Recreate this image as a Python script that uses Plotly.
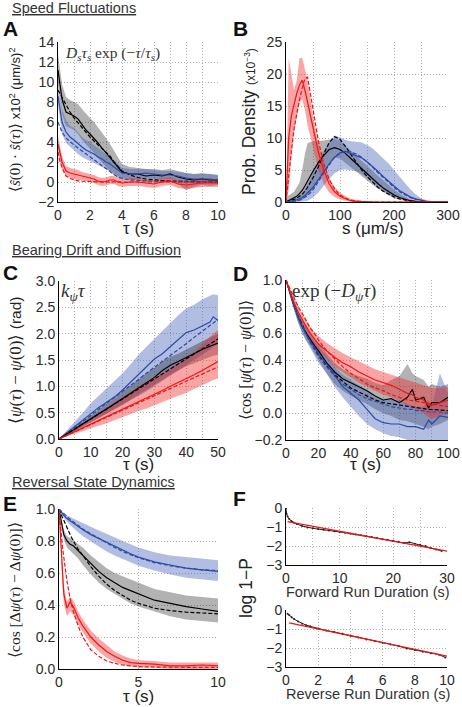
import plotly.graph_objects as go

W, H = 462, 707

# ---------------- Panel A: speed autocorrelation ----------------
A_tau = [0, 0.1, 0.25, 0.5, 0.75, 1, 1.25, 1.5, 1.75, 2, 2.25, 2.5, 2.75, 3, 3.25, 3.5, 3.75, 4,
         4.5, 5, 5.5, 6, 6.5, 7, 7.5, 8, 8.5, 9, 9.5, 10]
A_black = [11.2, 10.0, 8.3, 7.0, 6.8, 6.6, 6.3, 5.7, 5.2, 4.8, 4.4, 3.9, 3.4, 2.9, 2.4, 1.9, 1.4, 1.0,
           0.8, 0.8, 0.6, 0.7, 0.6, 0.8, 0.5, 0.3, 0.2, 0.3, 0.2, 0.2]
A_black_hi = [12.8, 11.5, 9.8, 8.5, 8.2, 8.0, 7.8, 7.3, 6.8, 6.4, 6.0, 5.5, 5.0, 4.4, 3.8, 3.1, 2.4, 1.8,
              1.5, 1.4, 1.3, 1.3, 1.2, 1.3, 1.1, 0.9, 0.8, 0.9, 0.8, 0.7]
A_black_lo = [9.6, 8.5, 6.8, 5.6, 5.4, 5.2, 4.8, 4.2, 3.7, 3.3, 2.9, 2.4, 1.9, 1.5, 1.0, 0.7, 0.4, 0.3,
              0.2, 0.2, 0.0, 0.1, 0.0, 0.2, -0.2, -0.8, -0.5, -0.3, -0.4, -0.3]
A_black_fit = [9.2, 8.9, 8.4, 7.6, 7.0, 6.4, 5.9, 5.4, 4.9, 4.5, 4.1, 3.7, 3.3, 3.0, 2.6, 2.0, 1.5, 1.1,
               0.7, 0.45, 0.3, 0.2, 0.15, 0.1, 0.07, 0.05, 0.03, 0.02, 0.01, 0.01]
A_blue = [8.6, 7.6, 6.0, 5.0, 4.5, 4.2, 3.8, 3.5, 3.2, 3.0, 2.8, 2.5, 2.3, 2.0, 1.8, 1.5, 1.2, 0.9,
          0.8, 0.8, 0.9, 0.8, 0.7, 0.7, 0.6, 0.4, 0.3, 0.3, 0.3, 0.2]
A_blue_hi = [9.4, 8.5, 7.2, 6.2, 5.6, 5.4, 4.9, 4.5, 4.2, 4.0, 3.7, 3.4, 3.1, 2.8, 2.5, 2.2, 1.8, 1.4,
             1.3, 1.3, 1.3, 1.2, 1.1, 1.1, 1.0, 0.9, 0.8, 0.8, 0.8, 0.7]
A_blue_lo = [7.8, 6.7, 4.8, 3.9, 3.5, 3.2, 2.8, 2.5, 2.3, 2.1, 1.9, 1.7, 1.5, 1.3, 1.1, 0.9, 0.6, 0.4,
             0.3, 0.3, 0.4, 0.3, 0.3, 0.3, 0.2, 0.0, -0.1, -0.1, -0.1, -0.2]
A_blue_fit = [6.0, 5.6, 5.0, 4.4, 4.0, 3.7, 3.4, 3.1, 2.8, 2.5, 2.2, 1.9, 1.6, 1.3, 1.0, 0.75, 0.5, 0.35,
              0.2, 0.15, 0.1, 0.07, 0.05, 0.03, 0.02, 0.01, 0.01, 0.0, 0.0, 0.0]
A_red = [3.8, 3.0, 2.0, 1.1, 0.9, 0.8, 0.7, 0.6, 0.5, 0.4, 0.3, 0.1, 0.0, 0.05, 0.2, 0.2, 0.0, -0.1,
         0.0, 0.0, -0.1, -0.2, 0.0, 0.1, -0.2, -0.3, -0.2, -0.1, -0.1, -0.1]
A_red_hi = [4.6, 3.7, 2.6, 1.6, 1.4, 1.3, 1.2, 1.0, 0.9, 0.8, 0.7, 0.5, 0.4, 0.45, 0.6, 0.6, 0.4, 0.3,
            0.4, 0.4, 0.3, 0.2, 0.4, 0.5, 0.2, 0.1, 0.2, 0.3, 0.3, 0.3]
A_red_lo = [3.0, 2.3, 1.4, 0.6, 0.4, 0.3, 0.2, 0.2, 0.1, 0.0, -0.1, -0.3, -0.4, -0.35, -0.2, -0.2, -0.4, -0.5,
            -0.4, -0.4, -0.5, -0.6, -0.4, -0.3, -0.6, -0.7, -0.6, -0.5, -0.5, -0.5]
A_red_fit = [3.0, 2.2, 1.4, 0.6, 0.35, 0.2, 0.12, 0.08, 0.05, 0.03, 0.02, 0.01, 0.01, 0, 0, 0, 0, 0,
             0, 0, 0, 0, 0, 0, 0, 0, 0, 0, 0, 0]

# ---------------- Panel B: speed distributions ----------------
B_s = [0, 5, 10, 15, 20, 25, 30, 35, 40, 50, 60, 70, 80, 90, 100, 110, 120, 130, 140, 150, 160, 170,
       180, 190, 200, 210, 220, 230, 240, 250, 260, 270, 280, 290, 300]
B_red = [0, 10, 13.5, 15.5, 17, 18.3, 19, 17.5, 15.5, 11.5, 7.8, 5, 2.8, 1.6, 0.9, 0.5, 0.2, 0.1, 0.05,
         0, 0, 0, 0, 0, 0, 0, 0, 0, 0, 0, 0, 0, 0, 0, 0]
B_red_fit = [0, 4.5, 8, 11.5, 14, 16, 17.8, 19.3, 19.5, 14.5, 9.5, 6, 3.5, 2, 1.1, 0.6, 0.3, 0.15, 0.05,
             0, 0, 0, 0, 0, 0, 0, 0, 0, 0, 0, 0, 0, 0, 0, 0]
B_red_hi = [0, 22.5, 20, 17.5, 19, 22.5, 22.5, 20.5, 19, 13.5, 9, 6, 3.8, 2.4, 1.5, 0.9, 0.5, 0.3, 0.15,
            0.05, 0, 0, 0, 0, 0, 0, 0, 0, 0, 0, 0, 0, 0, 0, 0]
B_red_lo = [0, 2, 7, 11, 13, 15.5, 16, 14.5, 12, 8.5, 5, 2.8, 1.5, 0.8, 0.4, 0.2, 0.05,
            0, 0, 0, 0, 0, 0, 0, 0, 0, 0, 0, 0, 0, 0, 0, 0, 0, 0]
B_black = [0, 0.2, 0.4, 0.6, 0.9, 1.3, 1.8, 2.5, 3.3, 4.8, 6.2, 7.3, 8.2, 8.5, 8.2, 7.6, 6.8, 6.0, 5.2,
           4.4, 3.6, 2.9, 2.2, 1.6, 1.1, 0.7, 0.4, 0.2, 0.1, 0.05, 0, 0, 0, 0, 0]
B_black_fit = [0, 0.1, 0.2, 0.4, 0.6, 0.9, 1.2, 1.7, 2.3, 3.8, 5.5, 7.5, 9.3, 10.2, 9.8, 8.7, 7.4, 6.2,
               5.0, 4.0, 3.1, 2.3, 1.7, 1.2, 0.8, 0.5, 0.3, 0.15, 0.05, 0, 0, 0, 0, 0, 0]
B_black_hi = [0.8, 1.0, 1.3, 1.6, 2.2, 3.0, 5.0, 7.5, 9.2, 9.5, 9.5, 9.6, 9.8, 9.9, 9.6, 8.8, 8.0, 7.2,
              6.5, 5.7, 4.9, 4.1, 3.4, 2.6, 1.9, 1.3, 0.8, 0.4, 0.2, 0.1, 0, 0, 0, 0, 0]
B_black_lo = [0, 0, 0, 0, 0.05, 0.15, 0.3, 0.6, 1.0, 2.0, 3.5, 5.0, 6.2, 6.9, 6.8, 6.2, 5.5, 4.8, 4.1,
              3.4, 2.7, 2.1, 1.5, 1.0, 0.6, 0.35, 0.2, 0.1, 0, 0, 0, 0, 0, 0, 0]
B_blue = [0, 0.05, 0.1, 0.2, 0.35, 0.5, 0.7, 1.0, 1.4, 2.3, 3.5, 4.8, 6.0, 7.0, 7.7, 7.9, 7.6, 7.2, 6.9,
          6.3, 5.6, 4.8, 4.0, 3.2, 2.5, 1.8, 1.3, 0.8, 0.5, 0.25, 0.1, 0.05, 0, 0, 0]
B_blue_fit = [0, 0.03, 0.07, 0.12, 0.2, 0.3, 0.5, 0.7, 1.0, 1.9, 3.1, 4.5, 5.8, 7.0, 7.6, 7.9, 7.8, 7.5,
              7.0, 6.3, 5.5, 4.6, 3.8, 3.0, 2.3, 1.6, 1.1, 0.7, 0.4, 0.2, 0.1, 0, 0, 0, 0]
B_blue_hi = [0.2, 0.3, 0.4, 0.5, 0.7, 1.0, 1.4, 2.0, 2.8, 4.5, 6.3, 8.0, 9.3, 10.4, 10.1, 9.7, 9.5, 9.4,
             9.3, 8.9, 8.4, 7.6, 6.8, 6.0, 5.0, 4.0, 3.0, 2.0, 1.2, 0.6, 0.3, 0.1, 0, 0, 0]
B_blue_lo = [0, 0, 0, 0, 0, 0, 0.05, 0.1, 0.2, 0.7, 1.5, 2.5, 3.6, 4.5, 5.0, 5.1, 5.0, 4.8, 4.4, 3.8,
             3.1, 2.4, 1.8, 1.3, 0.9, 0.6, 0.4, 0.2, 0.1, 0, 0, 0, 0, 0, 0]

# ---------------- Panel C: bearing drift ----------------
C_tau = [0, 2.5, 5, 7.5, 10, 12.5, 15, 17.5, 20, 22.5, 25, 27.5, 30, 32.5, 35, 37.5, 40, 42.5, 45,
         47.5, 48.5, 50]
C_blue = [0, 0.12, 0.24, 0.37, 0.49, 0.6, 0.7, 0.8, 0.93, 1.08, 1.22, 1.38, 1.52, 1.62, 1.75, 1.88,
          2.02, 2.07, 2.15, 2.22, 2.32, 2.25]
C_blue_fit = [0, 0.11, 0.23, 0.34, 0.45, 0.57, 0.68, 0.79, 0.91, 1.02, 1.13, 1.25, 1.36, 1.47, 1.59,
              1.7, 1.81, 1.93, 2.04, 2.15, 2.2, 2.27]
C_blue_hi = [0, 0.16, 0.33, 0.5, 0.68, 0.82, 0.96, 1.1, 1.25, 1.42, 1.6, 1.75, 1.9, 2.05, 2.2, 2.35,
             2.48, 2.55, 2.65, 2.72, 2.75, 2.73]
C_blue_lo = [0, 0.08, 0.16, 0.24, 0.32, 0.4, 0.48, 0.56, 0.64, 0.73, 0.82, 0.9, 1.0, 1.1, 1.2, 1.3,
             1.4, 1.5, 1.6, 1.7, 1.75, 1.8]
C_black = [0, 0.09, 0.19, 0.29, 0.39, 0.48, 0.57, 0.67, 0.77, 0.88, 0.98, 1.08, 1.17, 1.3, 1.4, 1.47,
           1.55, 1.62, 1.7, 1.76, 1.79, 1.82]
C_black_fit = [0, 0.095, 0.19, 0.285, 0.38, 0.475, 0.57, 0.665, 0.76, 0.855, 0.95, 1.045, 1.14, 1.235,
               1.33, 1.425, 1.52, 1.615, 1.71, 1.805, 1.84, 1.9]
C_black_hi = [0, 0.11, 0.23, 0.34, 0.45, 0.56, 0.67, 0.78, 0.9, 1.02, 1.13, 1.25, 1.35, 1.47, 1.56,
              1.62, 1.7, 1.78, 1.86, 1.93, 1.96, 2.0]
C_black_lo = [0, 0.07, 0.15, 0.23, 0.32, 0.4, 0.48, 0.57, 0.65, 0.74, 0.84, 0.93, 1.02, 1.12, 1.22,
              1.3, 1.38, 1.44, 1.5, 1.56, 1.58, 1.6]
C_red = [0, 0.07, 0.14, 0.21, 0.28, 0.35, 0.42, 0.49, 0.57, 0.64, 0.71, 0.78, 0.85, 0.92, 1.0, 1.07,
         1.15, 1.22, 1.3, 1.39, 1.43, 1.47]
C_red_fit = [0, 0.069, 0.137, 0.206, 0.274, 0.343, 0.411, 0.48, 0.548, 0.617, 0.685, 0.754, 0.822,
             0.891, 0.959, 1.028, 1.096, 1.165, 1.233, 1.302, 1.33, 1.37]
C_red_hi = [0, 0.1, 0.2, 0.3, 0.4, 0.5, 0.6, 0.7, 0.8, 0.9, 1.0, 1.08, 1.16, 1.25, 1.35, 1.45, 1.55,
            1.65, 1.8, 1.95, 2.0, 2.07]
C_red_lo = [0, 0.05, 0.1, 0.15, 0.2, 0.25, 0.3, 0.35, 0.41, 0.47, 0.53, 0.58, 0.63, 0.7, 0.76, 0.82,
            0.88, 0.95, 1.02, 1.09, 1.12, 1.15]

# ---------------- Panel D: bearing diffusion ----------------
D_tau = [0, 2.5, 5, 7.5, 10, 12.5, 15, 17.5, 20, 25, 30, 35, 40, 45, 50, 55, 60, 65, 70, 75, 78, 80,
         85, 88, 90, 95, 100]
D_red = [1.0, 0.91, 0.83, 0.76, 0.7, 0.65, 0.6, 0.56, 0.52, 0.47, 0.42, 0.38, 0.35, 0.31, 0.28, 0.25,
         0.23, 0.21, 0.18, 0.15, 0.14, 0.12, 0.1, 0.06, 0.06, 0.08, 0.1]
D_red_fit = [1.0, 0.93, 0.86, 0.8, 0.75, 0.69, 0.64, 0.6, 0.55, 0.47, 0.41, 0.35, 0.3, 0.26, 0.22,
             0.19, 0.17, 0.14, 0.12, 0.1, 0.095, 0.09, 0.08, 0.07, 0.07, 0.06, 0.05]
D_red_hi = [1.0, 0.93, 0.86, 0.8, 0.74, 0.69, 0.65, 0.61, 0.58, 0.53, 0.49, 0.45, 0.42, 0.39, 0.36,
            0.33, 0.31, 0.29, 0.27, 0.25, 0.24, 0.23, 0.21, 0.2, 0.19, 0.19, 0.2]
D_red_lo = [1.0, 0.89, 0.8, 0.72, 0.66, 0.61, 0.56, 0.51, 0.47, 0.41, 0.35, 0.31, 0.27, 0.23, 0.2,
            0.17, 0.14, 0.12, 0.09, 0.06, 0.04, 0.03, 0.0, -0.03, -0.04, -0.02, 0.0]
D_black = [1.0, 0.9, 0.81, 0.72, 0.65, 0.6, 0.55, 0.51, 0.47, 0.38, 0.31, 0.26, 0.23, 0.2, 0.17, 0.13,
           0.1, 0.11, 0.08, 0.12, 0.18, 0.1, 0.12, 0.04, 0.08, 0.08, 0.12]
D_black_fit = [1.0, 0.9, 0.81, 0.73, 0.66, 0.6, 0.54, 0.49, 0.44, 0.36, 0.29, 0.24, 0.19, 0.16, 0.13,
               0.1, 0.08, 0.07, 0.06, 0.05, 0.045, 0.04, 0.035, 0.03, 0.03, 0.025, 0.02]
D_black_hi = [1.0, 0.92, 0.84, 0.76, 0.7, 0.65, 0.6, 0.56, 0.53, 0.45, 0.38, 0.33, 0.3, 0.28, 0.26,
              0.23, 0.21, 0.25, 0.28, 0.37, 0.3, 0.28, 0.25, 0.2, 0.22, 0.2, 0.22]
D_black_lo = [1.0, 0.88, 0.78, 0.68, 0.6, 0.54, 0.49, 0.45, 0.4, 0.3, 0.22, 0.17, 0.13, 0.1, 0.07,
              0.03, 0.0, -0.02, -0.05, -0.06, -0.07, -0.08, -0.1, -0.12, -0.1, -0.08, -0.05]
D_blue = [1.0, 0.89, 0.8, 0.72, 0.65, 0.59, 0.54, 0.49, 0.45, 0.37, 0.28, 0.2, 0.15, 0.1, 0.03, -0.04,
          -0.07, -0.08, -0.08, -0.1, -0.1, -0.1, -0.12, -0.05, -0.08, -0.02, -0.03]
D_blue_fit = [1.0, 0.9, 0.81, 0.72, 0.65, 0.59, 0.53, 0.48, 0.43, 0.35, 0.28, 0.22, 0.18, 0.14, 0.11,
              0.09, 0.07, 0.05, 0.04, 0.03, 0.03, 0.02, 0.02, 0.01, 0.01, 0.01, 0.0]
D_blue_hi = [1.0, 0.91, 0.83, 0.75, 0.69, 0.63, 0.58, 0.54, 0.5, 0.43, 0.35, 0.29, 0.25, 0.21, 0.17,
             0.12, 0.1, 0.1, 0.1, 0.07, 0.06, 0.05, 0.05, 0.1, 0.05, 0.3, 0.15]
D_blue_lo = [1.0, 0.87, 0.77, 0.68, 0.6, 0.54, 0.49, 0.44, 0.38, 0.3, 0.2, 0.12, 0.05, -0.02, -0.08,
             -0.12, -0.15, -0.17, -0.18, -0.2, -0.2, -0.2, -0.2, -0.2, -0.2, -0.2, -0.2]

# ---------------- Panel E: reversal state ----------------
E_tau = [0, 0.1, 0.2, 0.3, 0.5, 0.7, 0.9, 1.2, 1.5, 2, 2.5, 3, 3.5, 4, 4.5, 5, 6, 7, 8, 9, 10]
E_blue = [1.0, 0.985, 0.97, 0.96, 0.94, 0.925, 0.91, 0.89, 0.87, 0.84, 0.815, 0.79, 0.765, 0.74, 0.72,
          0.7, 0.67, 0.65, 0.63, 0.62, 0.61]
E_blue_fit = [1.0, 0.99, 0.98, 0.97, 0.95, 0.935, 0.92, 0.895, 0.875, 0.845, 0.815, 0.785, 0.76, 0.735,
              0.715, 0.695, 0.665, 0.645, 0.63, 0.62, 0.615]
E_blue_hi = [1.0, 0.99, 0.98, 0.975, 0.96, 0.95, 0.94, 0.925, 0.91, 0.885, 0.865, 0.845, 0.82, 0.8,
             0.78, 0.76, 0.73, 0.71, 0.7, 0.69, 0.68]
E_blue_lo = [1.0, 0.98, 0.96, 0.945, 0.92, 0.9, 0.88, 0.855, 0.83, 0.795, 0.765, 0.735, 0.71, 0.685,
             0.665, 0.645, 0.615, 0.59, 0.57, 0.56, 0.55]
E_black = [1.0, 0.94, 0.88, 0.84, 0.8, 0.78, 0.77, 0.74, 0.71, 0.66, 0.61, 0.57, 0.54, 0.51, 0.49,
           0.47, 0.43, 0.41, 0.39, 0.375, 0.36]
E_black_fit = [1.0, 0.97, 0.95, 0.93, 0.88, 0.84, 0.8, 0.75, 0.71, 0.64, 0.58, 0.53, 0.49, 0.46, 0.43,
               0.41, 0.38, 0.365, 0.355, 0.35, 0.345]
E_black_hi = [1.0, 0.95, 0.9, 0.87, 0.83, 0.82, 0.81, 0.78, 0.76, 0.71, 0.67, 0.63, 0.6, 0.58, 0.56,
              0.54, 0.5, 0.48, 0.46, 0.45, 0.44]
E_black_lo = [1.0, 0.93, 0.86, 0.81, 0.76, 0.74, 0.72, 0.69, 0.65, 0.59, 0.54, 0.5, 0.47, 0.44, 0.41,
              0.39, 0.36, 0.33, 0.31, 0.3, 0.29]
E_red = [1.0, 0.8, 0.62, 0.47, 0.38, 0.42, 0.39, 0.32, 0.27, 0.2, 0.15, 0.11, 0.08, 0.055, 0.04,
         0.035, 0.03, 0.02, 0.02, 0.025, 0.02]
E_red_fit = [1.0, 0.88, 0.78, 0.7, 0.55, 0.44, 0.36, 0.27, 0.2, 0.12, 0.08, 0.05, 0.035, 0.025, 0.02,
             0.015, 0.012, 0.01, 0.01, 0.01, 0.01]
E_red_hi = [1.0, 0.83, 0.66, 0.52, 0.42, 0.45, 0.43, 0.36, 0.31, 0.24, 0.19, 0.15, 0.11, 0.085, 0.065,
            0.055, 0.05, 0.04, 0.04, 0.04, 0.04]
E_red_lo = [1.0, 0.77, 0.56, 0.41, 0.33, 0.36, 0.34, 0.28, 0.23, 0.16, 0.11, 0.07, 0.045, 0.025,
            0.015, 0.01, 0.01, 0.0, 0.0, 0.0, 0.0]

# ---------------- Panel F: run durations ----------------
F_fwd_t = [0, 0.1, 0.3, 0.6, 1, 1.5, 2, 3, 4, 5, 6, 7, 8, 9, 10, 11, 12, 13, 14, 15, 16, 17, 18, 19,
           20, 21, 22, 23, 24, 25, 26, 27, 28, 29]
F_fwd = [0, -0.3, -0.45, -0.58, -0.68, -0.77, -0.84, -0.95, -1.02, -1.07, -1.11, -1.14, -1.18, -1.22,
         -1.26, -1.3, -1.35, -1.4, -1.44, -1.49, -1.53, -1.58, -1.64, -1.68, -1.73, -1.78, -1.84, -1.8,
         -1.88, -1.93, -2.0, -2.1, -2.18, -2.26]
F_fwd_fit_t = [0.3, 30]
F_fwd_fit = [-0.72, -2.27]
F_rev_t = [0.1, 0.2, 0.35, 0.5, 0.75, 1, 1.25, 1.5, 2, 2.5, 3, 3.5, 4, 4.5, 5, 5.5, 6, 6.5, 7, 7.5, 8,
           8.5, 9, 9.5, 9.9]
F_rev = [-0.2, -0.27, -0.38, -0.48, -0.6, -0.72, -0.8, -0.86, -0.98, -1.08, -1.16, -1.25, -1.35, -1.45,
         -1.55, -1.63, -1.72, -1.82, -1.9, -2.02, -2.1, -2.2, -2.28, -2.35, -2.5]
F_rev_fit_t = [0.2, 10]
F_rev_fit = [-0.68, -2.43]

# ---------------- styling ----------------
BLACK, BLUE, RED = "#000000", "#2b4aa6", "#f01414"
BAND = {"k": "rgba(0,0,0,0.30)", "b": "rgba(60,90,180,0.40)", "r": "rgba(240,40,40,0.42)"}
LINE = {"k": BLACK, "b": BLUE, "r": RED}
SANS = "Liberation Sans, Arial, sans-serif"
SERIF = "Liberation Serif, Times New Roman, serif"
TICKFONT = dict(family=SANS, size=14, color="#2a2a2a")
GRID = "#b4b4b4"
GRIDDASH = "1px,2px"

fig = go.Figure()


def px_x(p):
    return p / W


def px_y(p):
    return 1 - p / H


def add_series(ax, x, mid, lo, hi, fit, c):
    assert len(x) == len(mid) == len(lo) == len(hi) == len(fit), (ax, c)
    xa, ya = ("x" + ax, "y" + ax) if ax else ("x", "y")
    fig.add_trace(go.Scatter(x=list(x) + list(x)[::-1], y=list(hi) + list(lo)[::-1], fill="toself",
                             fillcolor=BAND[c], line=dict(width=0), mode="lines", hoverinfo="skip",
                             showlegend=False, xaxis=xa, yaxis=ya))
    return (xa, ya, x, mid, fit, c)


def add_lines(spec):
    xa, ya, x, mid, fit, c = spec
    fig.add_trace(go.Scatter(x=x, y=fit, mode="lines", line=dict(color=LINE[c], width=1.2, dash="4px,2px"),
                             showlegend=False, xaxis=xa, yaxis=ya))
    fig.add_trace(go.Scatter(x=x, y=mid, mode="lines", line=dict(color=LINE[c], width=1.2),
                             showlegend=False, xaxis=xa, yaxis=ya))


panels = {
    "": [(A_tau, A_black, A_black_lo, A_black_hi, A_black_fit, "k"),
         (A_tau, A_blue, A_blue_lo, A_blue_hi, A_blue_fit, "b"),
         (A_tau, A_red, A_red_lo, A_red_hi, A_red_fit, "r")],
    "2": [(B_s, B_black, B_black_lo, B_black_hi, B_black_fit, "k"),
          (B_s, B_blue, B_blue_lo, B_blue_hi, B_blue_fit, "b"),
          (B_s, B_red, B_red_lo, B_red_hi, B_red_fit, "r")],
    "3": [(C_tau, C_blue, C_blue_lo, C_blue_hi, C_blue_fit, "b"),
          (C_tau, C_black, C_black_lo, C_black_hi, C_black_fit, "k"),
          (C_tau, C_red, C_red_lo, C_red_hi, C_red_fit, "r")],
    "4": [(D_tau, D_black, D_black_lo, D_black_hi, D_black_fit, "k"),
          (D_tau, D_blue, D_blue_lo, D_blue_hi, D_blue_fit, "b"),
          (D_tau, D_red, D_red_lo, D_red_hi, D_red_fit, "r")],
    "5": [(E_tau, E_black, E_black_lo, E_black_hi, E_black_fit, "k"),
          (E_tau, E_blue, E_blue_lo, E_blue_hi, E_blue_fit, "b"),
          (E_tau, E_red, E_red_lo, E_red_hi, E_red_fit, "r")],
}
for ax, series in panels.items():
    specs = [add_series(ax, *s) for s in series]
    for sp in specs:
        add_lines(sp)

# Panel F
assert len(F_fwd_t) == len(F_fwd) and len(F_rev_t) == len(F_rev)
fig.add_trace(go.Scatter(x=F_fwd_t, y=F_fwd, mode="lines+markers", line=dict(color="#222", width=1),
                         marker=dict(size=2, color="#222"), showlegend=False, xaxis="x6", yaxis="y6"))
fig.add_trace(go.Scatter(x=F_fwd_fit_t, y=F_fwd_fit, mode="lines", line=dict(color=RED, width=1.3),
                         showlegend=False, xaxis="x6", yaxis="y6"))
fig.add_trace(go.Scatter(x=F_rev_t, y=F_rev, mode="lines+markers", line=dict(color="#222", width=1),
                         marker=dict(size=2, color="#222"), showlegend=False, xaxis="x7", yaxis="y7"))
fig.add_trace(go.Scatter(x=F_rev_fit_t, y=F_rev_fit, mode="lines", line=dict(color=RED, width=1.3),
                         showlegend=False, xaxis="x7", yaxis="y7"))


def axis(dom, rng, dtick, minor=None, anchor="y", fmt=None):
    d = dict(domain=dom, range=rng, dtick=dtick, tick0=0, anchor=anchor, showline=True, linecolor="black",
             linewidth=1, mirror=False, showgrid=True, gridcolor=GRID, griddash=GRIDDASH, gridwidth=1,
             zeroline=False, ticks="", tickfont=TICKFONT, fixedrange=True, automargin=False)
    if minor:
        d["minor"] = dict(dtick=minor, tick0=0, showgrid=True, gridcolor=GRID, griddash=GRIDDASH, gridwidth=1)
    if fmt:
        d["tickformat"] = fmt
    return d


def xd(l, r):
    return [px_x(l), px_x(r)]


def yd(t, b):
    return [px_y(b), px_y(t)]


fig.update_layout(
    width=W, height=H, margin=dict(l=0, r=0, t=0, b=0), autosize=False,
    paper_bgcolor="white", plot_bgcolor="white", showlegend=False, hovermode=False,
    xaxis=axis(xd(58, 218), [0, 10], 2, 1, "y"),
    yaxis=axis(yd(42, 202), [-2, 14], 2, None, "x"),
    xaxis2=axis(xd(286, 448), [0, 300], 100, 50, "y2"),
    yaxis2=axis(yd(42, 202), [0, 25], 5, None, "x2"),
    xaxis3=axis(xd(59, 218), [0, 50], 10, 5, "y3"),
    yaxis3=axis(yd(281, 439), [0, 3], 0.5, None, "x3", ".1f"),
    xaxis4=axis(xd(286, 448), [0, 100], 20, 10, "y4"),
    yaxis4=axis(yd(280, 440), [-0.2, 1.0], 0.2, None, "x4", ".1f"),
    xaxis5=axis(xd(59, 218), [0, 10], 5, None, "y5"),
    yaxis5=axis(yd(509, 669), [0, 1.0], 0.2, None, "x5", ".1f"),
    xaxis6=axis(xd(286, 447), [0, 30], 10, 5, "y6"),
    yaxis6=axis(yd(508, 565), [-3, 0], 1, None, "x6"),
    xaxis7=axis(xd(286, 447), [0, 10], 2, None, "y7"),
    yaxis7=axis(yd(610, 667), [-3, 0], 1, None, "x7"),
)

ann = []


def text(px, py, s, size=13, family=SANS, color="#222", angle=0, xanchor="center"):
    ann.append(dict(x=px_x(px), y=px_y(py), xref="paper", yref="paper", text=s, showarrow=False,
                    font=dict(size=size, family=family, color=color), textangle=angle,
                    xanchor=xanchor, yanchor="middle", borderpad=0))


# section headers
text(11, 8, "<u>Speed Fluctuations</u>", 14.5, xanchor="left", color="#333")
text(11, 250, "<u>Bearing Drift and Diffusion</u>", 14.5, xanchor="left", color="#333")
text(11, 482, "<u>Reversal State Dynamics</u>", 14.5, xanchor="left", color="#333")
# panel letters
for lx, ly, L in [(2, 28, "A"), (232, 28, "B"), (2, 272, "C"), (232, 273, "D"), (2, 503, "E"), (232, 498, "F")]:
    text(lx, ly, "<b>%s</b>" % L, 21, xanchor="left", color="#111")

# x titles
text(138, 228, "τ (s)", 17)
text(373, 228, "s (μm/s)", 17)
text(138, 465, "τ (s)", 17)
text(365, 465, "τ (s)", 17)
text(138, 696, "τ (s)", 17)
text(368, 592, "Forward Run Duration (s)", 14.5, color="#333")
text(368, 694, "Reverse Run Duration (s)", 14.5, color="#333")

# y titles
text(16, 120, '<span style="font-family:Liberation Serif;font-size:15px">⟨<i>ŝ</i>(0) · <i>ŝ</i>(<i>τ</i>)⟩</span>'
              ' x10<sup>2</sup> (μm/s)<sup>2</sup>', 13, angle=-90)
text(249, 122, 'Prob. Density <span style="font-size:12px">(x10<sup>−3</sup>)</span>', 17.5, angle=-90)
text(15, 360, '<span style="font-family:Liberation Serif;font-size:17px">⟨<i>ψ</i>(<i>τ</i>) − <i>ψ</i>(0)⟩</span>'
              ' (rad)', 15.5, angle=-90)
text(246, 360, '⟨cos [<i>ψ</i>(<i>τ</i>) − <i>ψ</i>(0)]⟩', 16, family=SERIF, angle=-90)
text(15, 590, '⟨cos [Δ<i>ψ</i>(<i>τ</i>) − Δ<i>ψ</i>(0)]⟩', 15.5, family=SERIF, angle=-90)
text(246, 588, "log 1−P", 17.5, angle=-90)

# formula labels
text(64, 53, "<i>D<sub>s</sub>τ<sub>s</sub></i> exp (−<i>τ</i>/<i>τ<sub>s</sub></i>)", 15.5, family=SERIF,
     xanchor="left", color="#333")
text(60, 292, "<i>k<sub>ψ</sub>τ</i>", 19, family=SERIF, xanchor="left", color="#333")
text(291, 292, "exp (−<i>D<sub>ψ</sub>τ</i>)", 19, family=SERIF, xanchor="left", color="#333")

fig.update_layout(annotations=ann)
fig.write_html("out.html", config={"displayModeBar": False, "staticPlot": True},
               post_script="document.body.style.margin='0px';")
